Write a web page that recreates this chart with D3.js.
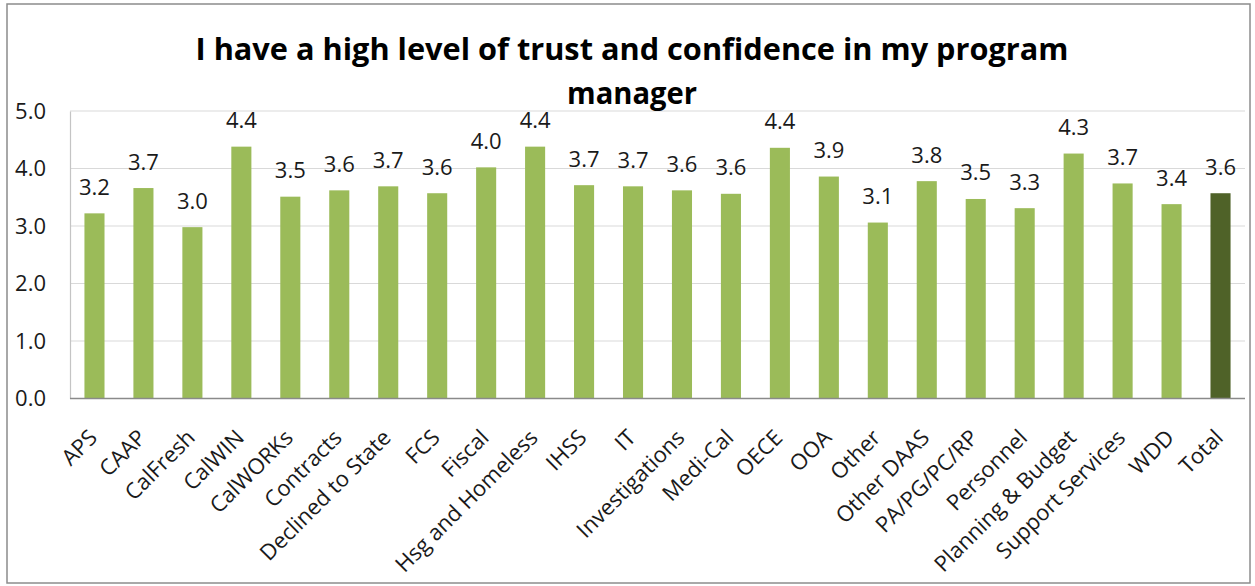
<!DOCTYPE html>
<html>
<head>
<meta charset="utf-8">
<script src="https://cdn.jsdelivr.net/npm/d3@7"></script>
<style>
  body { margin: 0; background: #fff; }
  text { font-family: "Open Sans", sans-serif; }
</style>
</head>
<body>
<svg id="chart"></svg>
<script>
const categories = ["APS", "CAAP", "CalFresh", "CalWIN", "CalWORKs", "Contracts", "Declined to State", "FCS", "Fiscal", "Hsg and Homeless", "IHSS", "IT", "Investigations", "Medi-Cal", "OECE", "OOA", "Other", "Other DAAS", "PA/PG/PC/RP", "Personnel", "Planning & Budget", "Support Services", "WDD", "Total"];
const values = [3.22, 3.66, 2.98, 4.38, 3.51, 3.62, 3.69, 3.57, 4.02, 4.38, 3.71, 3.69, 3.62, 3.56, 4.36, 3.86, 3.06, 3.78, 3.47, 3.31, 4.26, 3.74, 3.38, 3.57];
const yTicks = [0, 1, 2, 3, 4, 5];
const titleLines = ["I have a high level of trust and confidence in my program", "manager"];

const width = 1255;
const height = 586;

const svg = d3.select("#chart")
    .attr("width", width)
    .attr("height", height);

// chart frame
svg.append("rect")
    .attr("x", 7).attr("y", 4)
    .attr("width", 1243).attr("height", 579)
    .attr("fill", "#fff")
    .attr("stroke", "#8c8c8c")
    .attr("stroke-width", 1.5);

const x = d3.scaleBand()
    .domain(categories)
    .range([70, 1245])
    .paddingInner(0.59)
    .paddingOuter(0.295);

const y = d3.scaleLinear()
    .domain([0, 5])
    .range([398.5, 111]);

// gridlines
svg.append("g")
    .selectAll("line")
    .data(yTicks.filter(t => t > 0))
    .join("line")
    .attr("x1", 70).attr("x2", 1245)
    .attr("y1", d => y(d)).attr("y2", d => y(d))
    .attr("stroke", "#d9d9d9")
    .attr("stroke-width", 1.2);

// y axis
const yAxis = svg.append("g")
    .attr("transform", "translate(70,0)")
    .call(d3.axisLeft(y).tickValues(yTicks).tickFormat(d3.format(".1f")).tickSize(0).tickPadding(24));
yAxis.select(".domain").attr("stroke", "#c4c4c4").attr("stroke-width", 1.2);
yAxis.selectAll("text")
    .attr("font-size", 22)
    .attr("fill", "#1a1a1a")
    .attr("font-family", "Open Sans, sans-serif");

// bars
svg.append("g")
    .selectAll("rect")
    .data(categories)
    .join("rect")
    .attr("x", d => x(d))
    .attr("width", x.bandwidth())
    .attr("y", (d, i) => y(values[i]))
    .attr("height", (d, i) => y(0) - y(values[i]))
    .attr("fill", d => d === "Total" ? "#4f6228" : "#9bbb59");

// baseline
svg.append("line")
    .attr("x1", 70).attr("x2", 1245)
    .attr("y1", y(0)).attr("y2", y(0))
    .attr("stroke", "#8a8a8a")
    .attr("stroke-width", 1.5);

// value labels
svg.append("g")
    .selectAll("text")
    .data(categories)
    .join("text")
    .attr("x", d => x(d) + x.bandwidth() / 2)
    .attr("y", (d, i) => y(values[i]) - 18.5)
    .attr("text-anchor", "middle")
    .attr("font-size", 22)
    .attr("fill", "#1a1a1a")
    .text((d, i) => d3.format(".1f")(values[i]));

// category labels, rotated
svg.append("g")
    .selectAll("text")
    .data(categories)
    .join("text")
    .attr("transform", d => `translate(${x(d) + x.bandwidth() / 2 + 4},439) rotate(-45)`)
    .attr("text-anchor", "end")
    .attr("font-size", 22)
    .attr("fill", "#1a1a1a")
    .text(d => d);

// title
svg.append("g")
    .selectAll("text")
    .data(titleLines)
    .join("text")
    .attr("x", 632)
    .attr("y", (d, i) => i === 0 ? 60 : 104)
    .attr("text-anchor", "middle")
    .attr("font-size", 31)
    .attr("font-weight", "bold")
    .attr("fill", "#000")
    .attr("textLength", (d, i) => i === 0 ? 873 : 130)
    .attr("lengthAdjust", "spacingAndGlyphs")
    .text(d => d);
</script>
</body>
</html>
